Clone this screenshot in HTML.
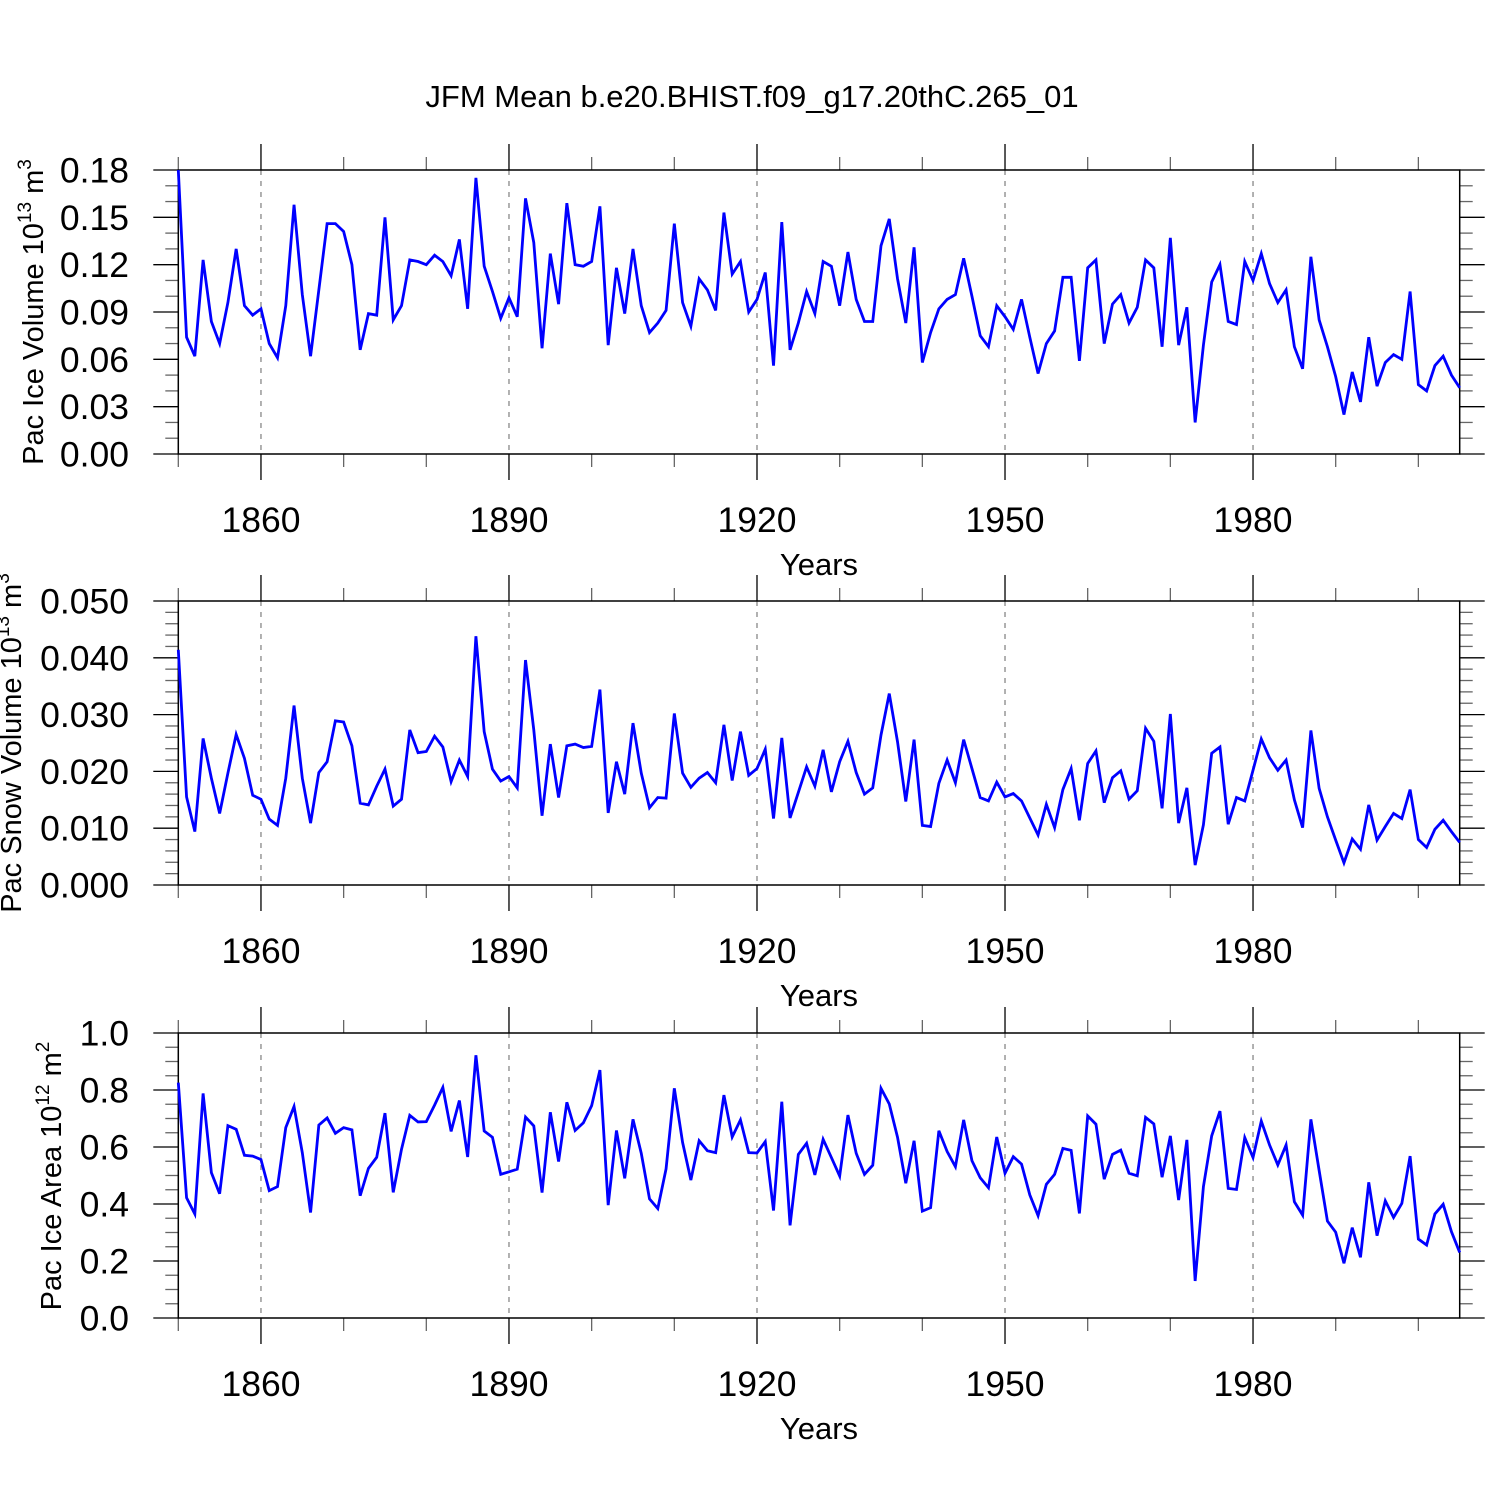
<!DOCTYPE html>
<html><head><meta charset="utf-8"><style>
html,body{margin:0;padding:0;background:#fff}
svg{display:block}
text{font-family:"Liberation Sans",sans-serif;fill:#000}
</style></head><body>
<svg id="chart" width="1500" height="1500" viewBox="0 0 1500 1500" xmlns="http://www.w3.org/2000/svg">
<text x="752" y="107" font-size="31" text-anchor="middle">JFM Mean b.e20.BHIST.f09_g17.20thC.265_01</text>
</svg>
<script>
const startYear = 1850;
const xMajorTicks = [1860, 1890, 1920, 1950, 1980];
const iceVolume = [0.180,0.074,0.062,0.123,0.084,0.070,0.096,0.130,0.094,0.088,0.092,0.070,0.061,0.094,0.158,0.101,0.062,0.104,0.146,0.146,0.141,0.120,0.066,0.089,0.088,0.150,0.085,0.094,0.123,0.122,0.120,0.126,0.122,0.113,0.136,0.092,0.175,0.119,0.103,0.086,0.099,0.087,0.162,0.134,0.067,0.127,0.095,0.159,0.120,0.119,0.122,0.157,0.069,0.118,0.089,0.130,0.094,0.077,0.083,0.091,0.146,0.096,0.081,0.111,0.104,0.091,0.153,0.114,0.122,0.090,0.098,0.115,0.056,0.147,0.066,0.083,0.103,0.089,0.122,0.119,0.094,0.128,0.098,0.084,0.084,0.132,0.149,0.111,0.083,0.131,0.058,0.077,0.092,0.098,0.101,0.124,0.100,0.075,0.068,0.094,0.087,0.079,0.098,0.074,0.051,0.070,0.078,0.112,0.112,0.059,0.118,0.123,0.070,0.095,0.101,0.083,0.093,0.123,0.118,0.068,0.137,0.069,0.093,0.020,0.069,0.109,0.120,0.084,0.082,0.122,0.110,0.127,0.108,0.096,0.104,0.068,0.054,0.125,0.085,0.068,0.049,0.025,0.052,0.033,0.074,0.043,0.058,0.063,0.060,0.103,0.044,0.040,0.056,0.062,0.050,0.042];
const snowVolume = [0.0414,0.0155,0.0094,0.0258,0.0188,0.0126,0.0197,0.0265,0.0223,0.0158,0.0151,0.0116,0.0105,0.0188,0.0316,0.0188,0.0109,0.0198,0.0217,0.0289,0.0287,0.0245,0.0144,0.0141,0.0174,0.0204,0.0139,0.0151,0.0273,0.0233,0.0235,0.0262,0.0243,0.0182,0.0220,0.0191,0.0438,0.0270,0.0204,0.0183,0.0191,0.0171,0.0396,0.0273,0.0122,0.0248,0.0154,0.0245,0.0248,0.0242,0.0244,0.0344,0.0127,0.0217,0.0160,0.0285,0.0197,0.0136,0.0154,0.0153,0.0302,0.0197,0.0172,0.0188,0.0198,0.0180,0.0282,0.0184,0.0270,0.0193,0.0205,0.0239,0.0117,0.0259,0.0118,0.0163,0.0208,0.0174,0.0238,0.0164,0.0217,0.0253,0.0198,0.0160,0.0171,0.0264,0.0337,0.0252,0.0147,0.0256,0.0105,0.0103,0.0179,0.0220,0.0180,0.0256,0.0205,0.0154,0.0148,0.0181,0.0155,0.0161,0.0148,0.0118,0.0088,0.0142,0.0101,0.0168,0.0205,0.0114,0.0214,0.0236,0.0145,0.0189,0.0201,0.0151,0.0166,0.0276,0.0253,0.0135,0.0301,0.0109,0.0171,0.0035,0.0106,0.0232,0.0243,0.0107,0.0154,0.0148,0.0202,0.0257,0.0224,0.0202,0.0220,0.0150,0.0101,0.0272,0.0170,0.0120,0.0079,0.0039,0.0081,0.0063,0.0141,0.0079,0.0103,0.0126,0.0117,0.0168,0.0080,0.0066,0.0098,0.0114,0.0094,0.0075];
const iceArea = [0.826,0.422,0.365,0.788,0.510,0.436,0.675,0.662,0.571,0.568,0.556,0.447,0.461,0.668,0.742,0.580,0.370,0.677,0.702,0.648,0.668,0.660,0.429,0.525,0.564,0.719,0.441,0.592,0.711,0.688,0.689,0.747,0.809,0.655,0.763,0.565,0.922,0.656,0.634,0.504,0.513,0.522,0.705,0.674,0.440,0.722,0.549,0.757,0.658,0.685,0.745,0.870,0.396,0.658,0.490,0.697,0.578,0.418,0.384,0.523,0.806,0.616,0.484,0.622,0.587,0.580,0.782,0.635,0.695,0.580,0.579,0.619,0.377,0.759,0.325,0.574,0.613,0.502,0.627,0.563,0.498,0.712,0.578,0.504,0.536,0.806,0.751,0.634,0.473,0.622,0.375,0.387,0.657,0.584,0.531,0.695,0.552,0.492,0.457,0.635,0.508,0.566,0.540,0.432,0.359,0.469,0.504,0.595,0.588,0.367,0.709,0.680,0.487,0.574,0.589,0.508,0.499,0.704,0.681,0.494,0.639,0.414,0.625,0.130,0.461,0.639,0.726,0.455,0.451,0.633,0.563,0.691,0.607,0.537,0.607,0.408,0.361,0.697,0.517,0.340,0.301,0.192,0.317,0.213,0.476,0.289,0.411,0.353,0.402,0.568,0.277,0.256,0.365,0.399,0.303,0.230];
const iceVolumeTicks = ["0.00","0.03","0.06","0.09","0.12","0.15","0.18"];
const snowVolumeTicks = ["0.000","0.010","0.020","0.030","0.040","0.050"];
const iceAreaTicks = ["0.0","0.2","0.4","0.6","0.8","1.0"];

const NS = "http://www.w3.org/2000/svg";
const svg = document.getElementById("chart");
const X0 = 178.3, X1 = 1459.7, Y0 = 1850, YN = 2005;
function xs(yr){ return X0 + (yr - Y0) * (X1 - X0) / (YN - Y0); }
function mk(tag, attrs, parent){ const e = document.createElementNS(NS, tag); for (const k in attrs) e.setAttribute(k, attrs[k]); (parent||svg).appendChild(e); return e; }

const panels = [
 {name:"ice-volume", data:iceVolume, ticks:iceVolumeTicks, max:0.18, minorStep:0.01, majorEvery:3, top:170, bot:454, title:["Pac Ice Volume 10","13"," m","3"], tx:43, ty:312},
 {name:"snow-volume", data:snowVolume, ticks:snowVolumeTicks, max:0.05, minorStep:0.002, majorEvery:5, top:601, bot:885, title:["Pac Snow Volume 10","13"," m","3"], tx:21, ty:743},
 {name:"ice-area", data:iceArea, ticks:iceAreaTicks, max:1.0, minorStep:0.05, majorEvery:4, top:1033, bot:1318, title:["Pac Ice Area 10","12"," m","2"], tx:61, ty:1176}
];

panels.forEach(p => {
  const g = mk("g", {});
  
  
  const ys = v => p.bot - v / p.max * (p.bot - p.top);
  xMajorTicks.forEach(yr => {
    const l = mk("line", {x1:xs(yr), x2:xs(yr), y1:p.top, y2:p.bot, stroke:"#888", "stroke-width":1.3, "stroke-dasharray":"5,6"}, g);
    
    
  });
  for (let yr = 1850; yr <= 2005; yr += 10) {
    const major = xMajorTicks.includes(yr);
    const len = major ? 26 : 13;
    const c = major ? "#000" : "#666";
    const a = mk("line", {x1:xs(yr), x2:xs(yr), y1:p.top, y2:p.top - len, stroke:c, "stroke-width":1.3}, g);
    
    
    const b = mk("line", {x1:xs(yr), x2:xs(yr), y1:p.bot, y2:p.bot + len, stroke:c, "stroke-width":1.3}, g);
    
    
  }
  xMajorTicks.forEach(yr => {
    const t = mk("text", {x:xs(yr), y:p.bot + 78, "font-size":35.5, "text-anchor":"middle"}, g);
    t.textContent = yr;
    
    
  });
  const xt = mk("text", {x:819, y:p.bot + 121, "font-size":31, "text-anchor":"middle"}, g);
  xt.textContent = "Years";
  
  
  const nMinor = Math.round(p.max / p.minorStep);
  for (let k = 0; k <= nMinor; k++) {
    const y = ys(k * p.minorStep);
    const major = k % p.majorEvery === 0;
    const len = major ? 25 : 13;
    const c = major ? "#000" : "#666";
    const a = mk("line", {x1:X0, x2:X0 - len, y1:y, y2:y, stroke:c, "stroke-width":1.3}, g);
    
    
    const b = mk("line", {x1:X1, x2:X1 + len, y1:y, y2:y, stroke:c, "stroke-width":1.3}, g);
    
    
  }
  p.ticks.forEach((lab, k) => {
    const t = mk("text", {x:129, y:ys(parseFloat(lab)) + 12.5, "font-size":35.5, "text-anchor":"end"}, g);
    t.textContent = lab;
    
    
  });
  const yt = mk("text", {x:0, y:0, "font-size":29, "text-anchor":"middle", transform:"translate(" + p.tx + "," + p.ty + ") rotate(-90)"}, g);
  
  
  const s1 = mk("tspan", {}, yt); s1.textContent = p.title[0];
  const s2 = mk("tspan", {dy:-12, "font-size":19}, yt); s2.textContent = p.title[1];
  const s3 = mk("tspan", {dy:12}, yt); s3.textContent = p.title[2];
  const s4 = mk("tspan", {dy:-12, "font-size":19}, yt); s4.textContent = p.title[3];
  const fr = mk("rect", {x:X0, y:p.top, width:X1 - X0, height:p.bot - p.top, fill:"none", stroke:"#000", "stroke-width":1.5}, g);
  
  
  const pts = p.data.map((v, i) => xs(startYear + i).toFixed(2) + "," + ys(v).toFixed(2)).join(" ");
  const pl = mk("polyline", {points:pts, fill:"none", stroke:"#0000ff", "stroke-width":2.8, "stroke-linejoin":"miter"}, g);
  
  
});
</script>
</body></html>
